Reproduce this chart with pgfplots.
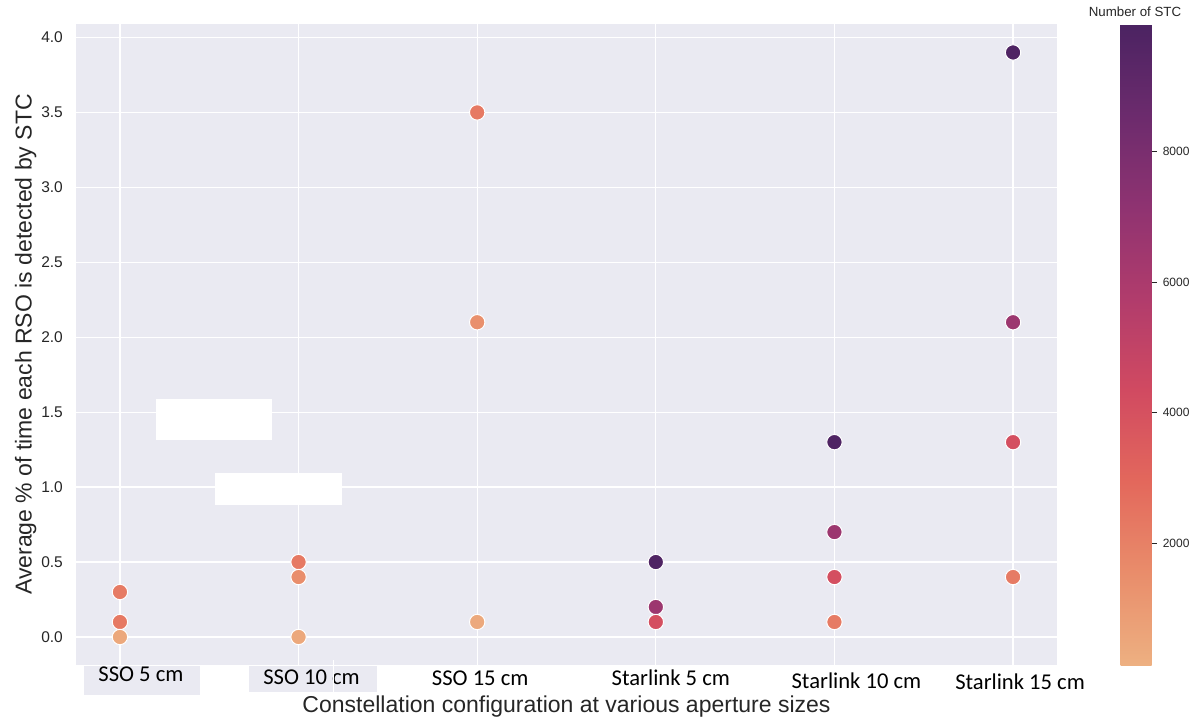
\documentclass[border=0pt]{standalone}
\usepackage{pgfplots}
\pgfplotsset{compat=1.18}
\usepackage{fontspec}
\setmainfont{Liberation Sans}
\newfontfamily\calibri{Carlito}
\definecolor{bg}{RGB}{234,234,242}
\definecolor{txt}{RGB}{38,38,38}
\begin{document}
\begin{tikzpicture}
\path[use as bounding box] (-76pt,-56pt) rectangle (1120pt,665pt);
\fill[bg] (8pt,-30pt) rectangle (124pt,-1pt);
\fill[bg] (173pt,-27pt) rectangle (301pt,-1pt);
\begin{axis}[
  at={(0pt,0pt)}, anchor=south west,
  scale only axis, width=981pt, height=641pt,
  xmin=-0.246, xmax=5.246, ymin=-0.187, ymax=4.09,
  axis background/.style={fill=bg},
  axis line style={draw=none},
  major tick length=0pt,
  grid=major, grid style={white, line width=1.3pt},
  xtick={0,1,2,3,4,5},
  xticklabels={
    {\raisebox{3.3pt}{\hspace*{42pt}SSO 5 cm}},
    {\raisebox{1pt}{\hspace*{26pt}SSO 10 cm}},
    {\hspace*{6pt}SSO 15 cm},
    {\hspace*{30pt}Starlink 5 cm},
    {\raisebox{-3pt}{\hspace*{44pt}Starlink 10 cm}},
    {\raisebox{-4pt}{\hspace*{14pt}Starlink 15 cm}}},
  xticklabel style={font=\calibri\fontsize{22.6}{26}\selectfont, color=black, anchor=base, inner sep=0pt, yshift=-20pt},
  ytick={0,0.5,1,1.5,2,2.5,3,3.5,4},
  yticklabel style={font=\fontsize{15.5}{18}\selectfont, color=txt, anchor=east, inner sep=0pt, xshift=-13pt,
    /pgf/number format/.cd, fixed, fixed zerofill, precision=1, assume math mode=true},
  xlabel={Constellation configuration at various aperture sizes},
  ylabel={Average \% of time each RSO is detected by STC},
  xlabel style={at={(axis description cs:0.5,-0.0655)}, anchor=center, inner sep=0pt, font=\fontsize{23}{27}\selectfont, color=txt},
  ylabel style={at={(axis description cs:-0.0513,0.5)}, anchor=center, inner sep=0pt, font=\fontsize{23}{27}\selectfont, color=txt},
  colormap={flare}{rgb255=(237,176,129) rgb255=(233,141,107) rgb255=(227,104,92) rgb255=(209,74,97) rgb255=(177,60,108) rgb255=(143,51,113) rgb255=(108,43,109) rgb255=(75,35,98)},
  point meta min=130, point meta max=9960,
  colorbar,
  colorbar/width=31pt,
  colorbar style={
    at={(parent axis.north east)}, anchor=north west, xshift=55pt,
    scale only axis, width=31pt, height=641pt,
    axis line style={draw=none},
    grid=none,
    axis on top,
    ytick={2000,4000,6000,8000},
    ytick pos=right,
    yticklabel pos=right,
    tick align=outside,
    major tick length=5pt,
    ytick style={draw=txt, line width=0.9pt},
    major tick style={draw=txt, line width=0.9pt},
    scaled y ticks=false,
    yticklabel style={font=\fontsize{12}{14}\selectfont, color=txt, anchor=west, inner sep=0pt, xshift=6pt,
      /pgf/number format/.cd, 1000 sep={}, assume math mode=true},
  },
]
\addplot[scatter, only marks, mark=*, mark size=7.7pt, point meta=explicit,
  scatter/use mapped color={draw=white, fill=mapped color},
  mark options={line width=1pt}]
  table[x=x, y=y, meta=c] {
x y c
0 0.1 2300
0 0.3 2200
0 0.0 450
1 0.5 2300
1 0.4 1500
1 0.0 450
2 3.5 2300
2 2.1 1400
2 0.1 400
3 0.5 9800
3 0.2 6600
3 0.1 4100
4 1.3 9800
4 0.7 6600
4 0.4 4100
4 0.1 2200
5 3.9 9800
5 2.1 6600
5 1.3 4100
5 0.4 2200
};
\end{axis}
\fill[white] (80pt,225pt) rectangle (196pt,266pt);
\fill[white] (139pt,160pt) rectangle (266pt,192pt);
\draw[white, line width=1pt] (257pt,5pt) -- (257pt,-27pt);
\foreach \ty in {121.9,252.4,382.8,513.2}{
  \draw[txt, line width=0.9pt] (1076pt,\ty pt) -- (1081pt,\ty pt);
}
\node[font=\fontsize{13.3}{15}\selectfont, color=txt, inner sep=0pt] at (1059pt,653pt) {Number of STC};
\end{tikzpicture}
\end{document}
